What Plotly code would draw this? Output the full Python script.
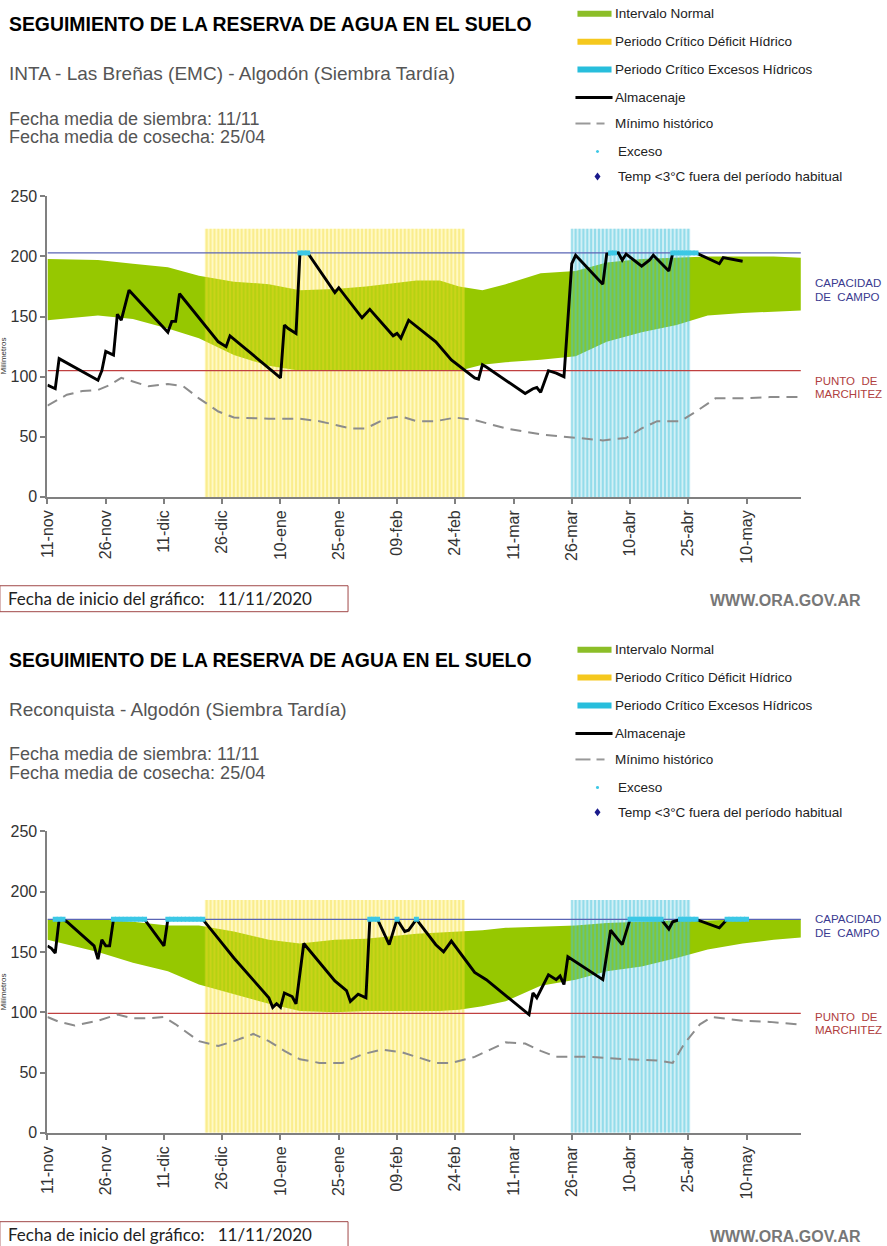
import plotly.graph_objects as go

W, H = 887, 1246

# eje x: dias contados desde el 11/11/2020
tick_dias = [0, 15, 30, 45, 60, 75, 90, 105, 120, 135, 150, 165, 180]
tick_fechas = ['11-nov', '26-nov', '11-dic', '26-dic', '10-ene', '25-ene', '09-feb',
               '24-feb', '11-mar', '26-mar', '10-abr', '25-abr', '10-may']
dia_fin = 194

# periodos criticos (dias)
deficit_ini, deficit_fin = 40.5, 107.5
excesos_ini, excesos_fin = 135, 165.5

# dias de la banda "Intervalo Normal"
banda_dias = [0, 13, 22, 31, 39, 48, 57, 65, 74, 82, 95, 101, 106, 112, 118, 127, 136,
              144, 153, 162, 170, 179, 187, 194]

# ---- INTA - Las Breñas ----
lb_campo = 203
lb_marchitez = 105
lb_tope_periodo = 223
lb_normal_sup = [198, 197, 194, 191, 184, 179, 177, 172, 173, 175, 180, 180, 175, 172,
                 177, 186, 188, 195, 198, 199, 200, 200, 200, 199]
lb_normal_inf = [147, 151, 148, 140, 132, 118, 109, 105, 105, 105, 105, 105, 105, 110,
                 112, 114, 117, 129, 137, 143, 151, 153, 154, 155]
lb_min_dias = [0, 5, 9, 13, 16, 19, 22, 26, 31, 35, 39, 44, 48, 57, 65, 70, 74, 78, 82,
               87, 91, 95, 100, 105, 110, 118, 127, 136, 143, 149, 153, 157, 163, 167,
               172, 179, 186, 194]
lb_min_mm = [76, 85, 88, 89, 93, 99, 96, 92, 94, 92, 82, 71, 66, 65, 65, 63, 60, 57, 57,
             65, 67, 63, 63, 66, 64, 57, 52, 49, 47, 49, 57, 63, 63, 71, 82, 82, 83, 83]
lb_alm_dias = [0, 2, 3, 13, 14, 15, 17, 18, 19, 21, 31, 32, 33, 34, 44, 46, 47, 60, 61,
               62, 64, 65, 67, 74, 75, 81, 83, 89, 90, 91, 93, 100, 104, 110, 111, 112,
               113, 123, 125, 126, 127, 129, 131, 133, 135, 136, 143, 144, 147, 148, 149,
               153, 155, 156, 160, 161, 167, 173, 174, 176, 179]
lb_alm_mm = [93, 90, 115, 97, 105, 121, 118, 152, 147, 172, 137, 146, 146, 169, 129, 125,
             134, 99, 143, 140, 136, 202, 203, 170, 174, 149, 156, 134, 136, 132, 147,
             129, 114, 99, 98, 110, 108, 86, 90, 91, 87, 105, 103, 100, 194, 201, 177,
             202, 203, 197, 202, 192, 197, 201, 188, 203, 203, 194, 199, 198, 196]
lb_exceso_dias = [65, 66, 67, 145, 146, 161, 162, 163, 164, 165, 166, 167]

# ---- Reconquista ----
rq_campo = 177
rq_marchitez = 99
rq_tope_periodo = 193
rq_normal_sup = [177, 177, 175, 172, 172, 167, 160, 157, 160, 161, 165, 166, 167, 168,
                 170, 171, 172, 174, 175, 176, 176, 177, 177, 177]
rq_normal_inf = [160, 150, 141, 134, 123, 115, 107, 101, 100, 101, 101, 101, 102, 105,
                 109, 122, 127, 134, 138, 145, 152, 157, 160, 162]
rq_min_dias = [0, 3, 7, 13, 18, 22, 26, 30, 33, 39, 44, 48, 53, 57, 61, 65, 70, 76, 81,
               86, 91, 95, 100, 104, 110, 114, 118, 123, 127, 131, 140, 149, 157, 161,
               164, 168, 171, 179, 186, 193]
rq_min_mm = [96, 92, 89, 93, 98, 95, 95, 96, 90, 76, 72, 76, 82, 76, 68, 61, 58, 58, 65,
             69, 67, 63, 58, 58, 63, 69, 75, 74, 68, 63, 63, 61, 60, 58, 74, 90, 96, 93,
             92, 90]
rq_alm_dias = [0, 1, 2, 3, 4, 5, 12, 13, 14, 15, 16, 17, 25, 30, 31, 40, 44, 48, 57, 58,
               59, 60, 61, 63, 64, 66, 74, 77, 78, 80, 82, 83, 85, 88, 90, 92, 93, 95,
               100, 102, 104, 110, 113, 119, 124, 125, 126, 129, 131, 132, 133, 134, 143,
               145, 148, 150, 158, 160, 161, 163, 167, 173, 175, 180]
rq_alm_mm = [155, 153, 149, 177, 177, 175, 155, 144, 160, 155, 155, 177, 177, 155, 177,
             177, 161, 145, 112, 104, 107, 104, 116, 113, 107, 157, 126, 118, 109, 115,
             112, 177, 177, 156, 177, 167, 168, 177, 156, 150, 159, 133, 127, 111, 98,
             116, 112, 131, 127, 130, 123, 146, 127, 168, 156, 177, 177, 169, 175, 177,
             177, 170, 177, 177]
rq_exceso_dias = [2, 3, 4, 17, 18, 19, 20, 21, 22, 23, 24, 25, 31, 32, 33, 34, 35, 36,
                  37, 38, 39, 40, 83, 84, 85, 90, 95, 150, 151, 152, 153, 154, 155, 156,
                  157, 158, 163, 164, 165, 166, 167, 175, 176, 177, 178, 179, 180]

paneles = [
    dict(off=0, subtitulo='INTA - Las Breñas (EMC) - Algodón (Siembra Tardía)',
         campo=lb_campo, marchitez=lb_marchitez, tope=lb_tope_periodo,
         sup=lb_normal_sup, inf=lb_normal_inf, min_d=lb_min_dias, min_v=lb_min_mm,
         alm_d=lb_alm_dias, alm_v=lb_alm_mm, exc=lb_exceso_dias),
    dict(off=637, subtitulo='Reconquista - Algodón (Siembra Tardía)',
         campo=rq_campo, marchitez=rq_marchitez, tope=rq_tope_periodo,
         sup=rq_normal_sup, inf=rq_normal_inf, min_d=rq_min_dias, min_v=rq_min_mm,
         alm_d=rq_alm_dias, alm_v=rq_alm_mm, exc=rq_exceso_dias),
]

VERDE = 'rgb(150,200,0)'
CIAN = 'rgb(60,200,230)'
FONT = 'Liberation Sans, Arial, sans-serif'

# la captura sale algo corrida y reducida: se compensa al pasar pixeles a coordenadas paper
OX, OY, ESC = 9.6, 6.3, 0.988


def px(x):
    return (x - OX) / ESC / W


def py(y):
    return 1 - (y - OY) / ESC / H


def franjas(ini, fin, tope):
    xs, ys = [], []
    for d in range(int(ini + 0.5), int(fin) + 1):
        xs += [d, d, None]
        ys += [0, tope, None]
    return xs, ys


fig = go.Figure()
shapes = []
annotations = []

for i, p in enumerate(paneles):
    n = '' if i == 0 else '2'
    xa, ya = 'x' + n, 'y' + n
    o = p['off']

    # intervalo normal
    fig.add_trace(go.Scatter(x=banda_dias, y=p['inf'], mode='lines', line_width=0,
                             xaxis=xa, yaxis=ya, hoverinfo='skip'))
    fig.add_trace(go.Scatter(x=banda_dias, y=p['sup'], mode='lines', line_width=0,
                             fill='tonexty', fillcolor=VERDE, xaxis=xa, yaxis=ya))

    # periodos criticos con rayado vertical
    for ini, fin, fondo, raya in [
        (deficit_ini, deficit_fin, 'rgba(255,235,60,0.30)', 'rgba(240,215,40,0.35)'),
        (excesos_ini, excesos_fin, 'rgba(70,195,220,0.25)', 'rgba(70,195,220,0.45)'),
    ]:
        fig.add_trace(go.Scatter(x=[ini, fin, fin, ini, ini], y=[0, 0, p['tope'], p['tope'], 0],
                                 mode='lines', line_width=0, fill='toself', fillcolor=fondo,
                                 xaxis=xa, yaxis=ya, hoverinfo='skip'))
        fx, fy = franjas(ini, fin, p['tope'])
        fig.add_trace(go.Scatter(x=fx, y=fy, mode='lines', line=dict(color=raya, width=2),
                                 xaxis=xa, yaxis=ya, hoverinfo='skip'))

    # capacidad de campo y punto de marchitez
    fig.add_trace(go.Scatter(x=[0, dia_fin], y=[p['campo']] * 2, mode='lines',
                             line=dict(color='#5a64b4', width=1.2), xaxis=xa, yaxis=ya))
    fig.add_trace(go.Scatter(x=[0, dia_fin], y=[p['marchitez']] * 2, mode='lines',
                             line=dict(color='#c04040', width=1.2), xaxis=xa, yaxis=ya))

    # minimo historico
    fig.add_trace(go.Scatter(x=p['min_d'], y=p['min_v'], mode='lines',
                             line=dict(color='#8c8c8c', width=2, dash='11px,7px'),
                             xaxis=xa, yaxis=ya))
    # almacenaje
    fig.add_trace(go.Scatter(x=p['alm_d'], y=p['alm_v'], mode='lines',
                             line=dict(color='black', width=2.9), xaxis=xa, yaxis=ya))
    # exceso
    fig.add_trace(go.Scatter(x=p['exc'], y=[p['campo']] * len(p['exc']), mode='markers',
                             marker=dict(color=CIAN, size=5, symbol='square'),
                             xaxis=xa, yaxis=ya))

    # textos de cabecera
    annotations += [
        dict(x=px(8), y=py(22 + o), text='<b>SEGUIMIENTO DE LA RESERVA DE AGUA EN EL SUELO</b>',
             font=dict(size=19.4, color='black')),
        dict(x=px(8), y=py(72 + o), text=p['subtitulo'], font=dict(size=19, color='#555')),
        dict(x=px(8), y=py(117 + o), text='Fecha media de siembra: 11/11',
             font=dict(size=18, color='#555')),
        dict(x=px(8), y=py(136 + o), text='Fecha media de cosecha: 25/04',
             font=dict(size=18, color='#555')),
        dict(x=px(4), y=py(355 + o), text='Milímetros', textangle=-90,
             font=dict(size=8, color='#333'), xanchor='center'),
        dict(x=px(812), y=py(282 + o), text='CAPACIDAD', font=dict(size=11.5, color='#3a3a90')),
        dict(x=px(812), y=py(296 + o), text='DE  CAMPO', font=dict(size=11.5, color='#3a3a90')),
        dict(x=px(812), y=py(380 + o), text='PUNTO  DE', font=dict(size=11.5, color='#b04040')),
        dict(x=px(812), y=py(393 + o), text='MARCHITEZ', font=dict(size=11.5, color='#b04040')),
        dict(x=px(7), y=py(598 + o), text='Fecha de inicio del gráfico:   11/11/2020',
             font=dict(size=17, color='#222', family='Lato, Open Sans, sans-serif')),
        dict(x=px(707), y=py(600 + o), text='<b>WWW.ORA.GOV.AR</b>',
             font=dict(size=16, color='#777')),
    ]

    # leyenda dibujada a mano
    leyenda = [(12, 'Intervalo Normal'), (40, 'Periodo Crítico Déficit Hídrico'),
               (68, 'Periodo Crítico Excesos Hídricos'), (96, 'Almacenaje'),
               (122, 'Mínimo histórico'), (150, 'Exceso'),
               (175, 'Temp <3°C fuera del período habitual')]
    for k, (yy, txt) in enumerate(leyenda):
        annotations.append(dict(x=px(612 if k < 5 else 615), y=py(yy + o), text=txt,
                                font=dict(size=13.5, color='#222')))
    for yy, col in [(12, 'rgb(140,190,40)'), (40, 'rgb(245,200,30)'), (68, 'rgb(40,190,220)')]:
        shapes.append(dict(type='rect', xref='paper', yref='paper', x0=px(577), x1=px(611),
                           y0=py(yy + 3 + o), y1=py(yy - 3 + o), fillcolor=col, line_width=0))
    shapes.append(dict(type='line', xref='paper', yref='paper', x0=px(575), x1=px(612),
                       y0=py(96 + o), y1=py(96 + o), line=dict(color='black', width=3)))
    for a, b in [(575, 590), (596, 604)]:
        shapes.append(dict(type='line', xref='paper', yref='paper', x0=px(a), x1=px(b),
                           y0=py(122 + o), y1=py(122 + o), line=dict(color='#999', width=2)))
    shapes.append(dict(type='circle', xref='paper', yref='paper', x0=px(595.5), x1=px(598.5),
                       y0=py(151.5 + o), y1=py(148.5 + o), fillcolor=CIAN, line_width=0))
    cx, cy = 597, 175 + o
    shapes.append(dict(type='path', xref='paper', yref='paper', fillcolor='#1a1a8c', line_width=0,
                       path=f'M {px(cx)},{py(cy - 4)} L {px(cx + 3)},{py(cy)} '
                            f'L {px(cx)},{py(cy + 4)} L {px(cx - 3)},{py(cy)} Z'))

    # recuadro de fecha de inicio
    shapes.append(dict(type='rect', xref='paper', yref='paper', x0=px(0.5), x1=px(348),
                       y0=py(585 + o), y1=py(611 + o), line=dict(color='#a04848', width=1)))

for a in annotations:
    a.update(xref='paper', yref='paper', showarrow=False, xanchor=a.get('xanchor', 'left'),
             yanchor='middle')

eje_x = dict(range=[0, dia_fin], tickvals=tick_dias, ticktext=tick_fechas, tickangle=-90,
             showline=True, linecolor='#808080', linewidth=2, ticks='outside', ticklen=5,
             tickcolor='#808080', tickwidth=2, showgrid=False, zeroline=False,
             tickfont=dict(size=16, color='#333'))
eje_y = dict(range=[0, 250], tickvals=[0, 50, 100, 150, 200, 250], showline=True,
             linecolor='#808080', linewidth=2, ticks='outside', ticklen=5, tickcolor='#808080',
             tickwidth=2, showgrid=False, zeroline=False, tickfont=dict(size=16, color='#333'))

fig.update_layout(
    width=W, height=H,
    margin=dict(l=0, r=0, t=0, b=0),
    paper_bgcolor='white', plot_bgcolor='white',
    font=dict(family=FONT),
    showlegend=False,
    xaxis=dict(eje_x, domain=[px(48), px(800)], anchor='y'),
    yaxis=dict(eje_y, domain=[py(496), py(195)], anchor='x'),
    xaxis2=dict(eje_x, domain=[px(48), px(800)], anchor='y2'),
    yaxis2=dict(eje_y, domain=[py(496 + 637), py(194 + 637)], anchor='x2'),
    shapes=shapes,
    annotations=annotations,
)

# sin margen ni barras de desplazamiento: la figura ocupa la ventana exacta
fig.write_html(
    'out.html',
    config={'displayModeBar': False},
    post_script="document.body.style.margin='0';"
                "document.body.style.overflow='hidden';"
                "document.documentElement.style.overflow='hidden';",
)
